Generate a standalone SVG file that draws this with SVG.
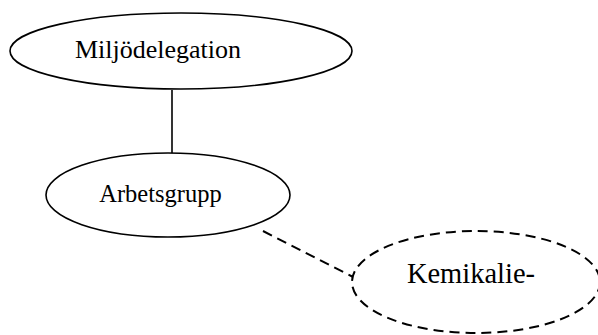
<svg xmlns="http://www.w3.org/2000/svg" width="598" height="335" viewBox="0 0 598 335">
<style>
.n{fill:#fff;stroke:#000;stroke-width:1.6}
.d{fill:none;stroke:#000;stroke-width:2;stroke-dasharray:10 6}
.t{font-family:"Liberation Serif","Times New Roman",serif;fill:#000;text-anchor:middle}
</style>
<rect width="598" height="335" fill="#fff"/>
<g id="connectors">
<line x1="172" y1="90" x2="172" y2="153" stroke="#000" stroke-width="1.6"/>
<line x1="263" y1="231" x2="353" y2="277" class="d"/>
</g>
<g id="miljodelegation">
<ellipse cx="181" cy="51" rx="171" ry="38" class="n"/>
<text x="158" y="58" class="t" font-size="26">Miljödelegation</text>
</g>
<g id="arbetsgrupp">
<ellipse cx="168" cy="195" rx="122" ry="42" class="n"/>
<text x="160.5" y="202" class="t" font-size="24.5">Arbetsgrupp</text>
</g>
<g id="kemikalie">
<ellipse cx="476" cy="282" rx="124" ry="51" class="d"/>
<text x="471" y="283" class="t" font-size="28.5">Kemikalie-</text>
</g>
</svg>
